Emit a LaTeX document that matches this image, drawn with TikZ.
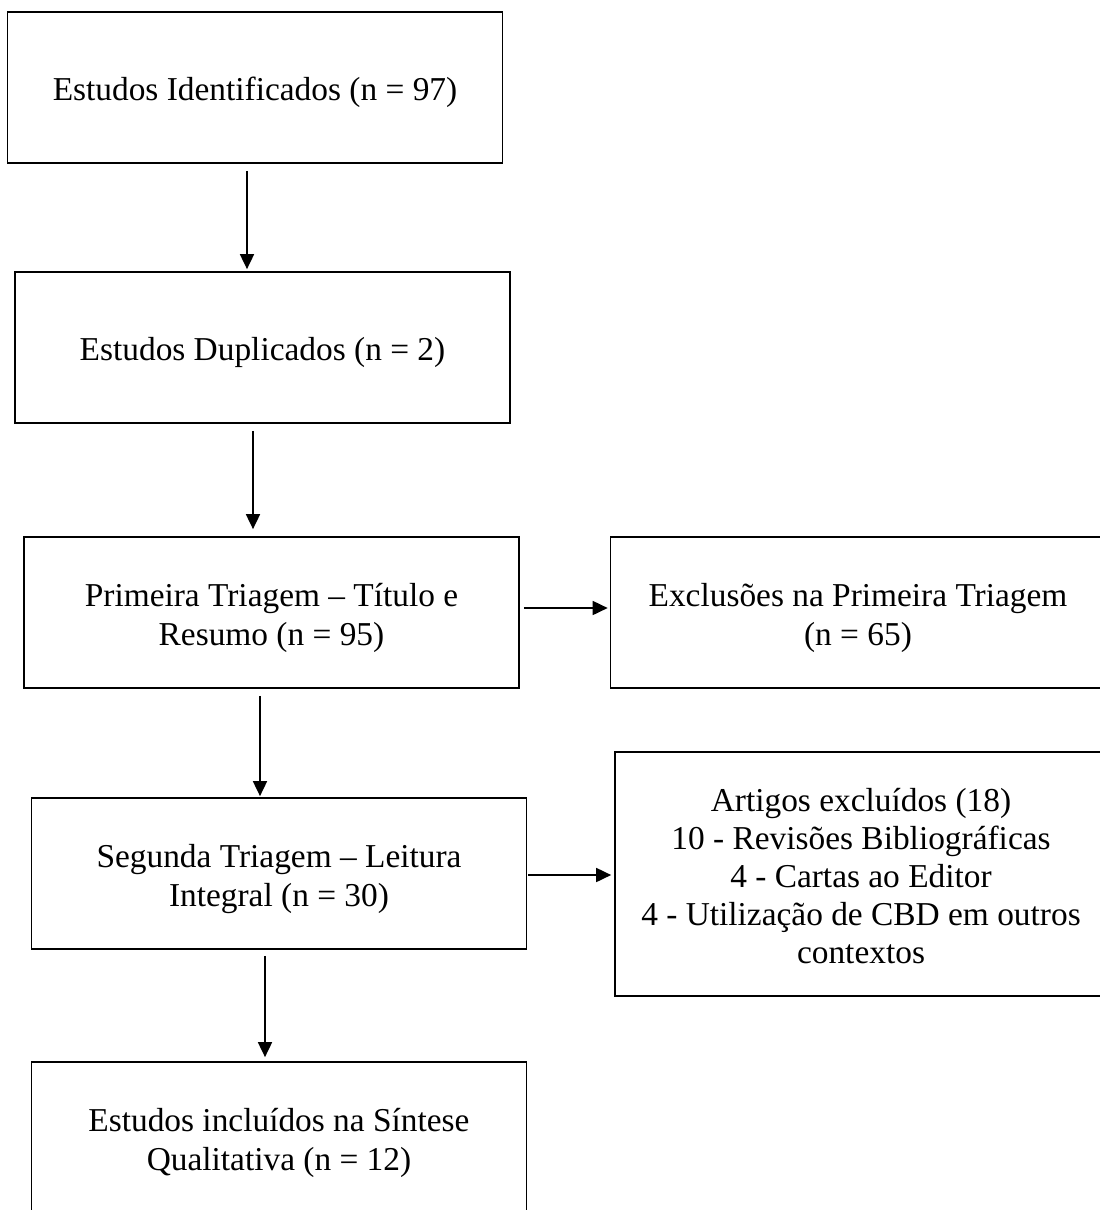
\documentclass[tikz,border=0pt]{standalone}
\usepackage{fontspec}
\setmainfont{Liberation Serif}
\usepackage{tikz}
\usetikzlibrary{arrows.meta, positioning, calc}
\definecolor{mydark}{RGB}{0,0,0}
\tikzset{
  block/.style={rectangle, draw=mydark, fill=white,
    minimum width=9.9cm, minimum height=3.02cm, text width=9.5cm, align=flush center,
    font=\fontsize{19}{21.7}\selectfont, line width=1pt, inner sep=0pt,
    execute at begin node={\rule{0pt}{20.3pt}},
    execute at end node={\rule[-5pt]{0pt}{0pt}}},
  tallblock/.style={block, minimum width=9.84cm, minimum height=4.88cm},
  arrow/.style={-{Triangle[length=0.3cm, width=0.28cm]}, line width=1pt, color=mydark}
}

\begin{document}
\begin{tikzpicture}[x=0.02cm, y=-0.02cm]
  \useasboundingbox (0,0) rectangle (1099,1210);

  % Main column
  \node[block] (ident) at (255, 87.5) {Estudos Identificados (n = 97)};
  \node[block] (dupl) at (262.5, 347.5) {Estudos Duplicados (n = 2)};
  \node[block] (tri1) at (271.5, 612.5) {Primeira Triagem -- Título e\\Resumo (n = 95)};
  \node[block] (tri2) at (279, 873.5) {Segunda Triagem -- Leitura\\Integral (n = 30)};
  \node[block] (incl) at (279, 1137.5) {Estudos incluídos na Síntese\\Qualitativa (n = 12)};

  % Exclusions
  \node[block] (excl1) at (858, 612.5) {Exclusões na Primeira Triagem\\(n = 65)};
  \node[tallblock] (excl2) at (861, 874) {Artigos excluídos (18)\\10 - Revisões Bibliográficas\\4 - Cartas ao Editor\\4 - Utilização de CBD em outros\\contextos};

  % Flow down
  \draw[arrow] ([xshift=-0.16cm, yshift=-0.14cm]ident.south) -- ([xshift=-0.16cm, yshift=0.04cm]ident.south |- dupl.north);
  \draw[arrow] ([xshift=-0.19cm, yshift=-0.14cm]dupl.south) -- ([xshift=-0.19cm, yshift=0.14cm]dupl.south |- tri1.north);
  \draw[arrow] ([xshift=-0.23cm, yshift=-0.14cm]tri1.south) -- ([xshift=-0.23cm, yshift=0.02cm]tri1.south |- tri2.north);
  \draw[arrow] ([xshift=-0.28cm, yshift=-0.12cm]tri2.south) -- ([xshift=-0.28cm, yshift=0.08cm]tri2.south |- incl.north);

  % Flow right
  \draw[arrow] ([xshift=0.08cm, yshift=0.09cm]tri1.east) -- ([xshift=-0.04cm, yshift=0.09cm]tri1.east -| excl1.west);
  \draw[arrow] ([xshift=0.02cm, yshift=-0.03cm]tri2.east) -- ([xshift=-0.06cm, yshift=-0.03cm]tri2.east -| excl2.west);
\end{tikzpicture}
\end{document}
